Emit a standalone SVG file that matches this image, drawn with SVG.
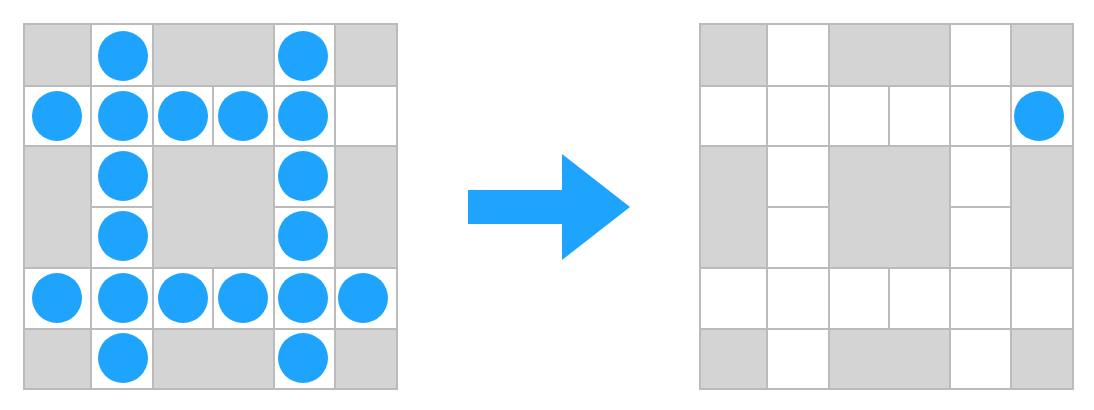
<svg xmlns="http://www.w3.org/2000/svg" width="1094" height="410" viewBox="0 0 1094 410">
<style>
.w{fill:#ffffff;stroke:#bbbbbb;stroke-width:2}
.g{fill:#d4d4d4;stroke:#bbbbbb;stroke-width:2}
.d{fill:#1ea4fd}
</style>
<defs>
<g id="grid">
<rect class="g" x="24" y="24" width="67" height="62"/>
<rect class="w" x="91" y="24" width="62" height="62"/>
<rect class="g" x="153" y="24" width="121" height="62"/>
<rect class="w" x="274" y="24" width="61" height="62"/>
<rect class="g" x="335" y="24" width="62" height="62"/>
<rect class="w" x="24" y="86" width="67" height="60"/>
<rect class="w" x="91" y="86" width="62" height="60"/>
<rect class="w" x="153" y="86" width="60" height="60"/>
<rect class="w" x="213" y="86" width="61" height="60"/>
<rect class="w" x="274" y="86" width="61" height="60"/>
<rect class="w" x="335" y="86" width="62" height="60"/>
<rect class="g" x="24" y="146" width="67" height="122"/>
<rect class="w" x="91" y="146" width="62" height="61"/>
<rect class="w" x="91" y="207" width="62" height="61"/>
<rect class="g" x="153" y="146" width="121" height="122"/>
<rect class="w" x="274" y="146" width="61" height="61"/>
<rect class="w" x="274" y="207" width="61" height="61"/>
<rect class="g" x="335" y="146" width="62" height="122"/>
<rect class="w" x="24" y="268" width="67" height="61"/>
<rect class="w" x="91" y="268" width="62" height="61"/>
<rect class="w" x="153" y="268" width="60" height="61"/>
<rect class="w" x="213" y="268" width="61" height="61"/>
<rect class="w" x="274" y="268" width="61" height="61"/>
<rect class="w" x="335" y="268" width="62" height="61"/>
<rect class="g" x="24" y="329" width="67" height="60"/>
<rect class="w" x="91" y="329" width="62" height="60"/>
<rect class="g" x="153" y="329" width="121" height="60"/>
<rect class="w" x="274" y="329" width="61" height="60"/>
<rect class="g" x="335" y="329" width="62" height="60"/>
</g>
</defs>
<g id="left-grid">
<use href="#grid"/>
<g id="left-dots">
<circle class="d" cx="123" cy="56" r="25"/>
<circle class="d" cx="303" cy="56" r="25"/>
<circle class="d" cx="57" cy="116" r="25"/>
<circle class="d" cx="123" cy="116" r="25"/>
<circle class="d" cx="183" cy="116" r="25"/>
<circle class="d" cx="243" cy="116" r="25"/>
<circle class="d" cx="303" cy="116" r="25"/>
<circle class="d" cx="123" cy="176" r="25"/>
<circle class="d" cx="303" cy="176" r="25"/>
<circle class="d" cx="123" cy="236" r="25"/>
<circle class="d" cx="303" cy="236" r="25"/>
<circle class="d" cx="57" cy="298" r="25"/>
<circle class="d" cx="123" cy="298" r="25"/>
<circle class="d" cx="183" cy="298" r="25"/>
<circle class="d" cx="243" cy="298" r="25"/>
<circle class="d" cx="303" cy="298" r="25"/>
<circle class="d" cx="363" cy="298" r="25"/>
<circle class="d" cx="123" cy="358" r="25"/>
<circle class="d" cx="303" cy="358" r="25"/>
</g>
</g>
<g id="connectors">
<polygon class="d" points="468,190 562,190 562,154 630,207 562,260 562,224 468,224"/>
</g>
<g id="right-grid">
<use href="#grid" transform="translate(676,0)"/>
<circle class="d" cx="1039" cy="116" r="25"/>
</g>
</svg>
